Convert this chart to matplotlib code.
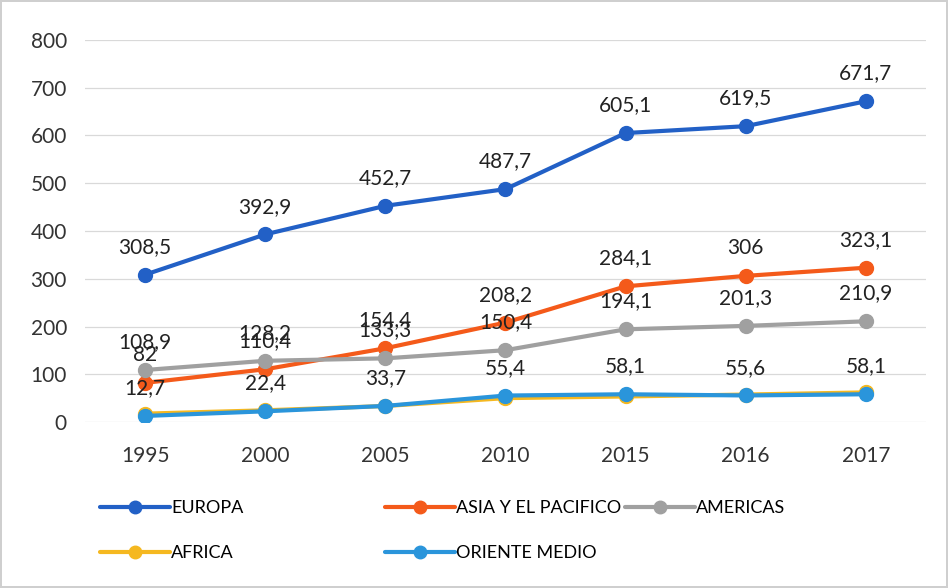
import numpy as np
import matplotlib
matplotlib.use("Agg")
import matplotlib.pyplot as plt
from matplotlib import rcParams

rcParams.update({'font.family': ['Lato', 'DejaVu Sans'], 'font.size': 15})

years = ['1995', '2000', '2005', '2010', '2015', '2016', '2017']

europa = [308.5, 392.9, 452.7, 487.7, 605.1, 619.5, 671.7]
asia = [82, 110.4, 154.4, 208.2, 284.1, 306, 323.1]
americas = [108.9, 128.2, 133.3, 150.4, 194.1, 201.3, 210.9]
africa = [17.5, 24.5, 33.5, 50.0, 53.5, 57.5, 62.0]
oriente = [12.7, 22.4, 33.7, 55.4, 58.1, 55.6, 58.1]

names = ['EUROPA', 'ASIA Y EL PACIFICO', 'AMERICAS', 'AFRICA', 'ORIENTE MEDIO']
colors = ['#2260C6', '#F45A1A', '#A0A0A0', '#F5B820', '#2A95DB']
series = [europa, asia, americas, africa, oriente]
labelled = [True, True, True, False, True]


def fmt(v):
    s = ('%.1f' % v).rstrip('0').rstrip('.')
    return s.replace('.', ',')


fig = plt.figure(figsize=(9.48, 5.88), dpi=100)
ax = fig.add_axes([0.0897, 0.2823, 0.887, 0.6497])

ind = np.arange(len(years))
handles = []
for vals, name, c in zip(series, names, colors):
    h, = ax.plot(ind, vals, color=c, lw=3, marker='o', ms=10, label=name,
                 solid_capstyle='round')
    handles.append(h)

for vals, c, lab in zip(series, colors, labelled):
    if not lab:
        continue
    for x, v in zip(ind, vals):
        ax.annotate(fmt(v), (x, v), xytext=(0, 20), textcoords='offset points',
                    ha='center', va='center', fontsize=15, color='#222222')

ax.set_xlim(-0.5, len(years) - 0.5)
ax.set_ylim(0, 800)
ax.set_yticks(np.arange(0, 801, 100))
ax.set_xticks(ind)
ax.set_xticklabels(years)
ax.grid(axis='y', color='#D9D9D9', lw=0.9)
ax.set_axisbelow(True)
for s in ax.spines.values():
    s.set_visible(False)
ax.tick_params(axis='both', length=0, colors='#333333', labelsize=15)
ax.tick_params(axis='x', pad=17)
ax.tick_params(axis='y', pad=13)

# legend entries placed one by one (row-major like the original)
pos = [(100, 508), (385, 508), (625, 508), (100, 553), (385, 553)]
for h, name, (px, py) in zip(handles, names, pos):
    lg = fig.legend([h], [name], loc='center left',
                    bbox_to_anchor=(px / 948, 1 - py / 588),
                    frameon=False, borderpad=0, borderaxespad=0,
                    handlelength=3.9, handletextpad=0.05, fontsize=13,
                    markerscale=0.9)

fig.patch.set_edgecolor('#CFCFCF')
fig.patch.set_linewidth(1.5)
fig.savefig('out.png', dpi=100, edgecolor=fig.get_edgecolor())
